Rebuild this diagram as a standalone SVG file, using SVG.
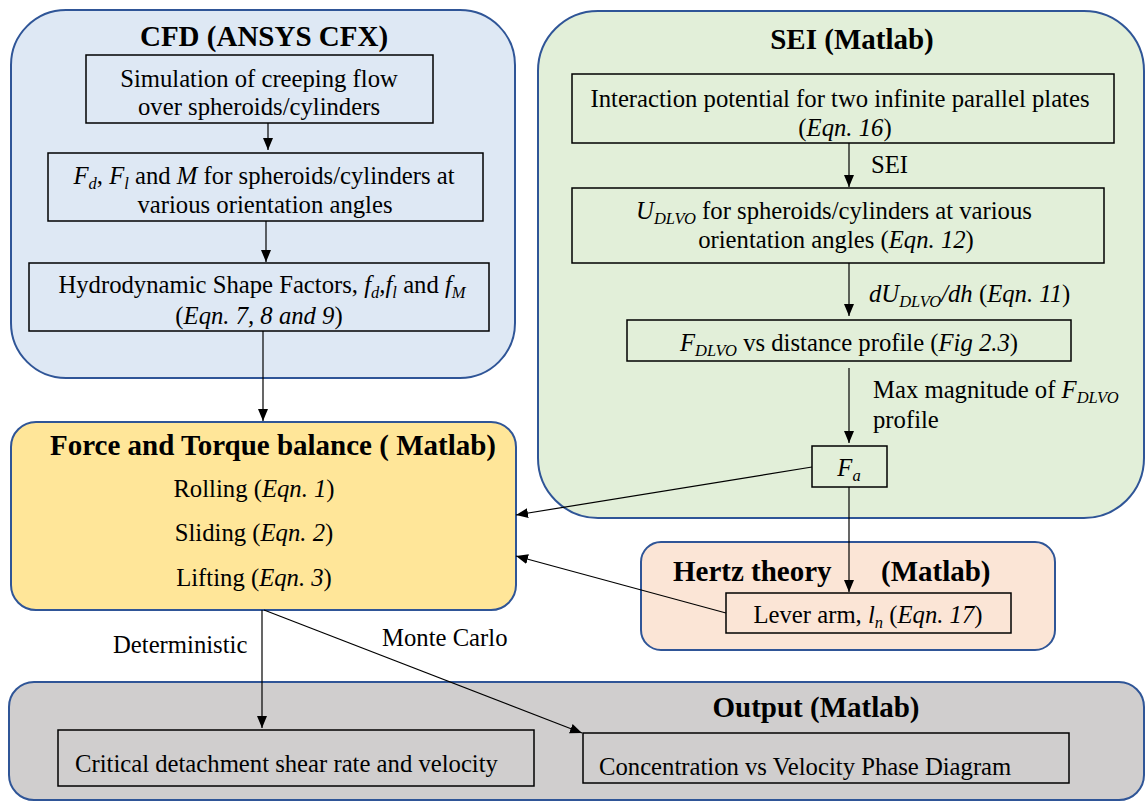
<svg xmlns="http://www.w3.org/2000/svg" width="1146" height="802" viewBox="0 0 1146 802">
<defs>
<marker id="ah" viewBox="0 0 12 10" refX="12" refY="5" markerWidth="12" markerHeight="10" markerUnits="userSpaceOnUse" orient="auto">
<path d="M0,0 L12,5 L0,10 Z" fill="#000"/>
</marker>
</defs>
<style>
text{font-family:"Liberation Serif","Times New Roman",serif;font-size:24.7px;fill:#000}
.t{font-weight:bold;font-size:29px}
.i{font-style:italic}
.s{font-style:italic;font-size:16.5px}
.c{stroke:#2f5597;stroke-width:2}
.b{fill:none;stroke:#000;stroke-width:1.5}
.l{fill:none;stroke:#000;stroke-width:1.2}
</style>
<rect width="1146" height="802" fill="#fff"/>

<g id="cfd">
<rect class="c" x="11" y="10" width="504" height="368" rx="55" fill="#dee8f4"/>
<text class="t" x="264" y="46" text-anchor="middle">CFD (ANSYS CFX)</text>
</g>
<g id="cfd-sim">
<rect class="b" x="86" y="55" width="347" height="68" fill="#dee8f4"/>
<text x="259" y="87" text-anchor="middle">Simulation of creeping flow</text>
<text x="259" y="115" text-anchor="middle">over spheroids/cylinders</text>
</g>
<g id="cfd-forces">
<rect class="b" x="48" y="153" width="435" height="68" fill="#dee8f4"/>
<text x="264" y="184" text-anchor="middle"><tspan class="i">F</tspan><tspan class="s" dy="5">d</tspan><tspan dy="-5">, </tspan><tspan class="i">F</tspan><tspan class="s" dy="5">l</tspan><tspan dy="-5"> and </tspan><tspan class="i">M</tspan> for spheroids/cylinders at</text>
<text x="265" y="213" text-anchor="middle">various orientation angles</text>
</g>
<g id="cfd-shape">
<rect class="b" x="29" y="263" width="460" height="68" fill="#dee8f4"/>
<text x="262" y="293" text-anchor="middle">Hydrodynamic Shape Factors, <tspan class="i">f</tspan><tspan class="s" dy="5">d</tspan><tspan class="i" dy="-5">,f</tspan><tspan class="s" dy="5">l</tspan><tspan dy="-5"> and </tspan><tspan class="i">f</tspan><tspan class="s" dy="5">M</tspan></text>
<text x="259" y="324" text-anchor="middle">(<tspan class="i">Eqn. 7, 8 and 9</tspan>)</text>
</g>

<g id="sei">
<rect class="c" x="538" y="11" width="606" height="507" rx="60" fill="#e2efd9"/>
<text class="t" x="852" y="49" text-anchor="middle">SEI (Matlab)</text>
</g>
<g id="sei-plates">
<rect class="b" x="572" y="74" width="542" height="69" fill="#e2efd9"/>
<text x="840" y="107" text-anchor="middle">Interaction potential for two infinite parallel plates</text>
<text x="845" y="136" text-anchor="middle">(<tspan class="i">Eqn. 16</tspan>)</text>
</g>
<g id="sei-udlvo">
<rect class="b" x="572" y="188" width="532" height="75" fill="#e2efd9"/>
<text x="834" y="219" text-anchor="middle"><tspan class="i">U</tspan><tspan class="s" dy="5">DLVO</tspan><tspan dy="-5"> for spheroids/cylinders at various</tspan></text>
<text x="836" y="248" text-anchor="middle">orientation angles (<tspan class="i">Eqn. 12</tspan>)</text>
</g>
<g id="sei-fdlvo">
<rect class="b" x="627" y="320" width="444" height="41" fill="#e2efd9"/>
<text x="849" y="351" text-anchor="middle"><tspan class="i">F</tspan><tspan class="s" dy="5">DLVO</tspan><tspan dy="-5"> vs distance profile (</tspan><tspan class="i">Fig 2.3</tspan>)</text>
</g>
<g id="sei-fa">
<rect class="b" x="812" y="446" width="75" height="41" fill="#e2efd9"/>
<text x="849" y="476" text-anchor="middle"><tspan class="i">F</tspan><tspan class="s" dy="5">a</tspan></text>
</g>

<g id="force">
<rect class="c" x="11" y="422" width="505" height="188" rx="25" fill="#ffe699"/>
<text class="t" x="273" y="455" text-anchor="middle" font-size="27">Force and Torque balance ( Matlab)</text>
<text x="254" y="497" text-anchor="middle">Rolling (<tspan class="i">Eqn. 1</tspan>)</text>
<text x="254" y="541" text-anchor="middle">Sliding (<tspan class="i">Eqn. 2</tspan>)</text>
<text x="254" y="586" text-anchor="middle">Lifting (<tspan class="i">Eqn. 3</tspan>)</text>
</g>

<g id="hertz">
<rect class="c" x="641" y="542" width="414" height="108" rx="20" fill="#fbe5d6"/>
<text class="t" x="673" y="581" font-size="27.3">Hertz theory</text>
<text class="t" x="881" y="581" font-size="27.3">(Matlab)</text>
</g>
<g id="hertz-lever">
<rect class="b" x="726" y="593" width="285" height="40" fill="#fbe5d6"/>
<text x="868" y="623" text-anchor="middle">Lever arm, <tspan class="i">l</tspan><tspan class="s" dy="5">n</tspan><tspan dy="-5"> (</tspan><tspan class="i">Eqn. 17</tspan>)</text>
</g>

<g id="output">
<rect class="c" x="9" y="682" width="1135" height="118" rx="25" fill="#d0cece"/>
<text class="t" x="816" y="717" text-anchor="middle">Output (Matlab)</text>
</g>
<g id="out-critical">
<rect class="b" x="58" y="730" width="476" height="56" fill="#f2f2f2"/>
<text x="75" y="772">Critical detachment shear rate and velocity</text>
</g>
<g id="out-phase">
<rect class="b" x="583" y="733" width="486" height="50" fill="#f2f2f2"/>
<text x="599" y="775">Concentration vs Velocity Phase Diagram</text>
</g>

<g id="connectors">
<line class="l" x1="268" y1="123" x2="268" y2="150" marker-end="url(#ah)"/>
<line class="l" x1="266" y1="221" x2="266" y2="262" marker-end="url(#ah)"/>
<line class="l" x1="263" y1="331" x2="263" y2="421" marker-end="url(#ah)"/>
<line class="l" x1="849" y1="143" x2="849" y2="187" marker-end="url(#ah)"/>
<line class="l" x1="849" y1="263" x2="849" y2="316" marker-end="url(#ah)"/>
<line class="l" x1="849" y1="368" x2="849" y2="443" marker-end="url(#ah)"/>
<line class="l" x1="849" y1="487" x2="849" y2="592" marker-end="url(#ah)"/>
<line class="l" x1="812" y1="467" x2="516" y2="515" marker-end="url(#ah)"/>
<line class="l" x1="726" y1="613" x2="516" y2="556" marker-end="url(#ah)"/>
<line class="l" x1="262" y1="610" x2="262" y2="728" marker-end="url(#ah)"/>
<line class="l" x1="264" y1="610" x2="582" y2="733" marker-end="url(#ah)"/>
<text x="871" y="173">SEI</text>
<text x="869" y="302"><tspan class="i">dU</tspan><tspan class="s" dy="5">DLVO</tspan><tspan class="i" dy="-5">/dh</tspan> (<tspan class="i">Eqn. 11</tspan>)</text>
<text x="873" y="398">Max magnitude of <tspan class="i">F</tspan><tspan class="s" dy="5">DLVO</tspan></text>
<text x="873" y="428">profile</text>
<text x="113" y="653" font-size="22.6">Deterministic</text>
<text x="382" y="646" font-size="22.6">Monte Carlo</text>
</g>
</svg>
